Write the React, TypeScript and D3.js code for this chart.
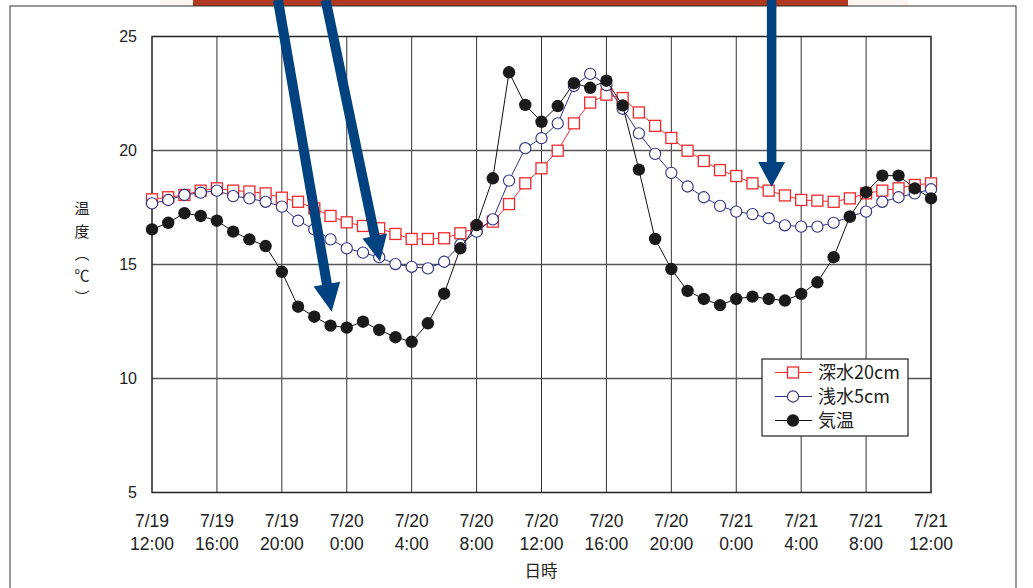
import * as d3 from 'd3';

// hourly readings, 7/19 12:00 -> 7/21 12:00
const hours = d3.range(0, 49);

const deepWater = [
  17.86, 17.95, 18.05, 18.24, 18.34, 18.24, 18.2, 18.12, 17.93, 17.75, 17.46, 17.13,
  16.85, 16.69, 16.59, 16.34, 16.12, 16.12, 16.15, 16.37, 16.6, 16.88, 17.65, 18.56,
  19.22, 19.99, 21.19, 22.1, 22.45, 22.3, 21.67, 21.08, 20.55, 19.99, 19.54, 19.14,
  18.88, 18.56, 18.24, 18.03, 17.83, 17.8, 17.75, 17.9, 18.12, 18.24, 18.34, 18.49,
  18.56,
];

const shallowWater = [
  17.68, 17.83, 18.05, 18.15, 18.24, 18.0, 17.9, 17.75, 17.54, 16.92, 16.54, 16.1,
  15.71, 15.52, 15.32, 15.02, 14.9, 14.83, 15.12, 15.87, 16.44, 16.98, 18.68, 20.1,
  20.54, 21.19, 22.83, 23.36, 22.87, 21.83, 20.75, 19.85, 19.02, 18.42, 17.95, 17.57,
  17.32, 17.21, 17.03, 16.72, 16.66, 16.66, 16.83, 17.1, 17.32, 17.75, 17.95, 18.12,
  18.3,
];

const airTemp = [
  16.54, 16.83, 17.25, 17.13, 16.92, 16.44, 16.1, 15.81, 14.68, 13.15, 12.71, 12.32,
  12.23, 12.49, 12.13, 11.81, 11.61, 12.42, 13.72, 15.71, 16.73, 18.78, 23.43, 22.0,
  21.26, 21.95, 22.95, 22.75, 23.06, 21.98, 19.16, 16.12, 14.8, 13.84, 13.49, 13.22,
  13.49, 13.59, 13.49, 13.42, 13.71, 14.22, 15.32, 17.1, 18.17, 18.9, 18.9, 18.34,
  17.9,
];

const dateLabels = ['7/19', '7/19', '7/19', '7/20', '7/20', '7/20', '7/20', '7/20', '7/20', '7/21', '7/21', '7/21', '7/21'];
const timeLabels = ['12:00', '16:00', '20:00', '0:00', '4:00', '8:00', '12:00', '16:00', '20:00', '0:00', '4:00', '8:00', '12:00'];
const yTicks = [5, 10, 15, 20, 25];

const seriesNames = ['深水20cm', '浅水5cm', '気温'];
const yTitleChars = ['温', '度', '︵', '℃', '︶'];

// annotation arrows: [start hour, start value, tip hour, tip value]
const arrows = [
  [7.76, 26.6, 11.07, 12.93],
  [10.7, 26.6, 14.05, 15.13],
  [38.18, 26.6, 38.18, 18.4],
];

const RED = '#ee2a2e';
const NAVY = '#2e3180';
const BLUE = '#00427f';
const NUM_FONT = '"Liberation Sans", Arial, sans-serif';
const JP_FONT = '"Noto Sans CJK JP", sans-serif';

const W = 1033;
const H = 588;

const x = d3.scaleLinear().domain([0, 48]).range([152, 931]);
const y = d3.scaleLinear().domain([5, 25]).range([492.5, 36.5]);

const line = d3
  .line<number>()
  .x((_, i) => x(hours[i]))
  .y((d) => y(d));

const arrowPath = (a: number[], shaft: number, headW: number, headL: number) => {
  const x0 = x(a[0]);
  const y0 = y(a[1]);
  const x1 = x(a[2]);
  const y1 = y(a[3]);
  const len = Math.hypot(x1 - x0, y1 - y0);
  const ux = (x1 - x0) / len;
  const uy = (y1 - y0) / len;
  const px = -uy;
  const py = ux;
  const bx = x1 - ux * headL;
  const by = y1 - uy * headL;
  const pts = [
    [x0 + px * shaft / 2, y0 + py * shaft / 2],
    [bx + px * shaft / 2, by + py * shaft / 2],
    [bx + px * headW / 2, by + py * headW / 2],
    [x1, y1],
    [bx - px * headW / 2, by - py * headW / 2],
    [bx - px * shaft / 2, by - py * shaft / 2],
    [x0 - px * shaft / 2, y0 - py * shaft / 2],
  ];
  return 'M' + pts.map((p) => p.join(',')).join('L') + 'Z';
};

const App = () => {
  const gridHours = d3.range(0, 49, 4);
  const legendX = 762;
  const legendY = 359;

  return (
    <svg
      width={W}
      height={H}
      style={{ position: 'absolute', left: 0, top: 0, background: '#fff' }}
    >
      {/* banner strip and frame */}
      <rect x={160} y={0} width={34} height={6} fill='#fcf4ee' />
      <rect x={848} y={0} width={60} height={6} fill='#fcf4ee' />
      <rect x={193} y={0} width={655} height={6} fill='#b0391f' />
      <rect x={10} y={6} width={1006} height={600} fill='none' stroke='#333' strokeWidth={1} />

      {/* grid */}
      {gridHours.slice(1, -1).map((h) => (
        <line key={'v' + h} x1={x(h)} x2={x(h)} y1={y(25)} y2={y(5)} stroke='#333' strokeWidth={1} />
      ))}
      {yTicks.slice(1, -1).map((t) => (
        <line key={'h' + t} x1={x(0)} x2={x(48)} y1={y(t)} y2={y(t)} stroke='#555' strokeWidth={1.4} />
      ))}
      <rect
        x={x(0)}
        y={y(25)}
        width={x(48) - x(0)}
        height={y(5) - y(25)}
        fill='none'
        stroke='#222'
        strokeWidth={1.5}
      />

      {/* y ticks */}
      {yTicks.map((t) => (
        <text
          key={'yt' + t}
          x={137}
          y={y(t)}
          dy='0.36em'
          textAnchor='end'
          fontFamily={NUM_FONT}
          fontSize={16}
          fill='#222'
        >
          {t}
        </text>
      ))}

      {/* x ticks */}
      {gridHours.map((h, i) => (
        <g key={'xt' + h} fontFamily={NUM_FONT} fontSize={17.5} fill='#222' textAnchor='middle'>
          <text x={x(h)} y={527}>{dateLabels[i]}</text>
          <text x={x(h)} y={550}>{timeLabels[i]}</text>
        </g>
      ))}

      {/* axis titles */}
      <text x={541} y={577} textAnchor='middle' fontFamily={JP_FONT} fontSize={16.5} fill='#222'>
        日時
      </text>
      <g fontFamily={JP_FONT} fontSize={15} fill='#222' textAnchor='middle'>
        {yTitleChars.map((c, i) => (
          <text key={'yl' + i} x={82} y={209 + i * 22.2} dy='0.36em'>
            {c}
          </text>
        ))}
      </g>

      {/* 深水20cm */}
      <path d={line(deepWater) || ''} fill='none' stroke={RED} strokeWidth={1} />
      {deepWater.map((d, i) => (
        <rect
          key={'s' + i}
          x={x(hours[i]) - 5.5}
          y={y(d) - 5.5}
          width={11}
          height={11}
          fill='#fff'
          stroke={RED}
          strokeWidth={1.3}
        />
      ))}

      {/* 浅水5cm */}
      <path d={line(shallowWater) || ''} fill='none' stroke={NAVY} strokeWidth={1} />
      {shallowWater.map((d, i) => (
        <circle key={'c' + i} cx={x(hours[i])} cy={y(d)} r={5.6} fill='#fff' stroke={NAVY} strokeWidth={1.1} />
      ))}

      {/* 気温 */}
      <path d={line(airTemp) || ''} fill='none' stroke='#111' strokeWidth={1} />
      {airTemp.map((d, i) => (
        <circle key={'a' + i} cx={x(hours[i])} cy={y(d)} r={6.2} fill='#1a1a1a' />
      ))}

      {/* legend */}
      <rect x={legendX} y={legendY} width={146} height={77} fill='#fff' stroke='#222' strokeWidth={1.2} />
      {seriesNames.map((name, i) => {
        const cy = legendY + 13.5 + i * 24;
        const cx = 793;
        return (
          <g key={'lg' + i}>
            <line
              x1={775}
              x2={812}
              y1={cy}
              y2={cy}
              stroke={i === 0 ? RED : i === 1 ? NAVY : '#111'}
              strokeWidth={1}
            />
            {i === 0 && <rect x={cx - 5.5} y={cy - 5.5} width={11} height={11} fill='#fff' stroke={RED} strokeWidth={1.3} />}
            {i === 1 && <circle cx={cx} cy={cy} r={5.6} fill='#fff' stroke={NAVY} strokeWidth={1.1} />}
            {i === 2 && <circle cx={cx} cy={cy} r={6.2} fill='#1a1a1a' />}
            <text x={818} y={cy} dy='0.36em' fontFamily={JP_FONT} fontSize={18} fill='#222'>
              {name}
            </text>
          </g>
        );
      })}

      {/* annotation arrows */}
      <path d={arrowPath(arrows[0], 10, 27, 28)} fill={BLUE} />
      <path d={arrowPath(arrows[1], 10, 25, 26)} fill={BLUE} />
      <path d={arrowPath(arrows[2], 9.5, 27, 25)} fill={BLUE} />
    </svg>
  );
};

export default App;
